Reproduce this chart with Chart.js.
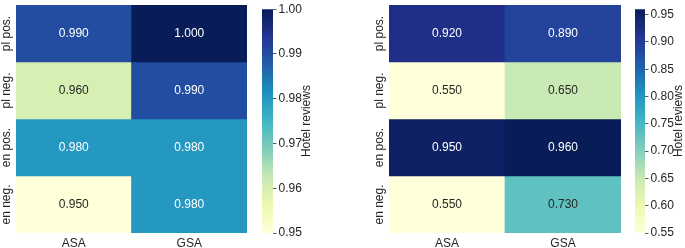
<!DOCTYPE html>
<html>
<head>
<meta charset="utf-8">
<script src="https://cdn.jsdelivr.net/npm/chart.js@4/dist/chart.umd.min.js"></script>
<style>
  body { margin: 0; background: #fff; }
  #wrap { position: relative; width: 685px; height: 248px; overflow: hidden; }
  canvas { position: absolute; top: 0; }
</style>
</head>
<body>
<div id="wrap">
  <canvas id="heat-left" width="250" height="248" style="left:0px"></canvas>
  <canvas id="cbar-left" width="90" height="248" style="left:250px"></canvas>
  <canvas id="heat-right" width="255" height="248" style="left:370px"></canvas>
  <canvas id="cbar-right" width="60" height="248" style="left:625px"></canvas>
</div>
<script>
const columns = ['ASA', 'GSA'];
const rows = ['pl pos.', 'pl neg.', 'en pos.', 'en neg.'];

// left panel
const asaLeft = [0.990, 0.960, 0.980, 0.950];
const gsaLeft = [1.000, 0.990, 0.980, 0.980];
const cbarTicksLeft = [0.95, 0.96, 0.97, 0.98, 0.99, 1.00];

// right panel
const asaRight = [0.920, 0.550, 0.950, 0.550];
const gsaRight = [0.890, 0.650, 0.960, 0.730];
const cbarTicksRight = [0.55, 0.60, 0.65, 0.70, 0.75, 0.80, 0.85, 0.90, 0.95];

const cbarTitle = 'Hotel reviews';

// YlGnBu
const ylgnbu = ['#ffffd9', '#edf8b1', '#c7e9b4', '#7fcdbb', '#41b6c4', '#1d91c0', '#225ea8', '#253494', '#081d58'];

Chart.defaults.font.family = '"Liberation Sans", Arial, sans-serif';
Chart.defaults.font.size = 12;
Chart.defaults.color = '#262626';
Chart.defaults.animation = false;

function hexToRgb(h) {
  return [parseInt(h.slice(1, 3), 16), parseInt(h.slice(3, 5), 16), parseInt(h.slice(5, 7), 16)];
}

function colormap(v, vmin, vmax) {
  let t = (v - vmin) / (vmax - vmin);
  t = Math.max(0, Math.min(1, t));
  const pos = t * (ylgnbu.length - 1);
  const i = Math.min(Math.floor(pos), ylgnbu.length - 2);
  const f = pos - i;
  const a = hexToRgb(ylgnbu[i]), b = hexToRgb(ylgnbu[i + 1]);
  const c = a.map((x, k) => Math.round(x + (b[k] - x) * f));
  return `rgb(${c[0]}, ${c[1]}, ${c[2]})`;
}

// same rule seaborn uses to pick annotation colour
function textColor(rgb) {
  const c = rgb.match(/\d+/g).map(Number).map(x => {
    x = x / 255;
    return x <= 0.03928 ? x / 12.92 : Math.pow((x + 0.055) / 1.055, 2.4);
  });
  const lum = 0.2126 * c[0] + 0.7152 * c[1] + 0.0722 * c[2];
  return lum > 0.408 ? '#262626' : '#ffffff';
}

const heatLabels = {
  id: 'heatLabels',
  afterDatasetsDraw(chart) {
    const ctx = chart.ctx;
    const yScale = chart.scales.y;
    ctx.save();
    ctx.font = '12px "Liberation Sans", Arial, sans-serif';
    ctx.textAlign = 'center';
    ctx.textBaseline = 'middle';
    chart.data.datasets.forEach((ds, di) => {
      const meta = chart.getDatasetMeta(di);
      meta.data.forEach((bar, j) => {
        ctx.fillStyle = textColor(ds.backgroundColor[j]);
        ctx.fillText(ds.values[j].toFixed(3), bar.x, (bar.y + bar.base) / 2);
      });
    });
    // row labels, rotated
    ctx.fillStyle = '#262626';
    rows.forEach((name, r) => {
      ctx.save();
      ctx.translate(chart.chartArea.left - 9, yScale.getPixelForValue(r + 0.5));
      ctx.rotate(-Math.PI / 2);
      ctx.fillText(name, 0, 0);
      ctx.restore();
    });
    ctx.restore();
  }
};

function drawHeatmap(id, asa, gsa, padLeft, padRight) {
  const all = asa.concat(gsa);
  const vmin = Math.min(...all), vmax = Math.max(...all);
  const datasets = rows.map((name, r) => {
    const values = [asa[r], gsa[r]];
    return {
      label: name,
      values: values,
      data: columns.map(() => [r, r + 1]),
      backgroundColor: values.map(v => colormap(v, vmin, vmax)),
      borderWidth: 0,
      grouped: false,
      barPercentage: 1,
      categoryPercentage: 1
    };
  });
  return new Chart(document.getElementById(id), {
    type: 'bar',
    data: { labels: columns, datasets: datasets },
    options: {
      responsive: false,
      devicePixelRatio: 1,
      layout: { autoPadding: false, padding: { left: padLeft, right: padRight, top: 5, bottom: 0 } },
      plugins: { legend: { display: false }, tooltip: { enabled: false } },
      scales: {
        x: {
          grid: { display: false, drawTicks: false },
          border: { display: false },
          ticks: { padding: 3, color: '#262626' },
          afterFit(scale) { scale.height = 15; }
        },
        y: {
          display: false,
          min: 0,
          max: rows.length,
          reverse: true
        }
      }
    },
    plugins: [heatLabels]
  });
}

function cbarTitlePlugin(titleX) {
  return {
    id: 'cbarTitle',
    afterDraw(chart) {
      const ctx = chart.ctx;
      const area = chart.chartArea;
      ctx.save();
      ctx.font = '12px "Liberation Sans", Arial, sans-serif';
      ctx.fillStyle = '#262626';
      ctx.textAlign = 'center';
      ctx.textBaseline = 'middle';
      ctx.translate(titleX, (area.top + area.bottom) / 2);
      ctx.rotate(-Math.PI / 2);
      ctx.fillText(cbarTitle, 0, 0);
      ctx.restore();
    }
  };
}

function drawColorbar(id, asa, gsa, ticks, padLeft, axisWidth, titleX) {
  const all = asa.concat(gsa);
  const vmin = Math.min(...all), vmax = Math.max(...all);
  return new Chart(document.getElementById(id), {
    type: 'bar',
    data: {
      labels: [''],
      datasets: [{
        data: [[vmin, vmax]],
        borderWidth: 0,
        barPercentage: 1,
        categoryPercentage: 1,
        backgroundColor(c) {
          const area = c.chart.chartArea;
          if (!area) return ylgnbu[0];
          const g = c.chart.ctx.createLinearGradient(0, area.bottom, 0, area.top);
          ylgnbu.forEach((col, i) => g.addColorStop(i / (ylgnbu.length - 1), col));
          return g;
        }
      }]
    },
    options: {
      responsive: false,
      devicePixelRatio: 1,
      layout: { autoPadding: false, padding: { left: padLeft, right: 0, top: 5, bottom: 15 } },
      plugins: { legend: { display: false }, tooltip: { enabled: false } },
      scales: {
        x: { display: false },
        y: {
          position: 'right',
          min: vmin,
          max: vmax,
          grid: { drawOnChartArea: false, drawTicks: true, tickLength: 3.5, color: '#333333', lineWidth: 0.8 },
          border: { display: false },
          ticks: {
            padding: 2,
            color: '#262626',
            callback: v => Number(v).toFixed(2)
          },
          afterBuildTicks(scale) { scale.ticks = ticks.map(v => ({ value: v })); },
          afterFit(scale) { scale.width = axisWidth; }
        }
      }
    },
    plugins: [cbarTitlePlugin(titleX)]
  });
}

drawHeatmap('heat-left', asaLeft, gsaLeft, 16, 3);
drawColorbar('cbar-left', asaLeft, gsaLeft, cbarTicksLeft, 12, 67, 57);
drawHeatmap('heat-right', asaRight, gsaRight, 19, 4);
drawColorbar('cbar-right', asaRight, gsaRight, cbarTicksRight, 10, 40, 54);
</script>
</body>
</html>
